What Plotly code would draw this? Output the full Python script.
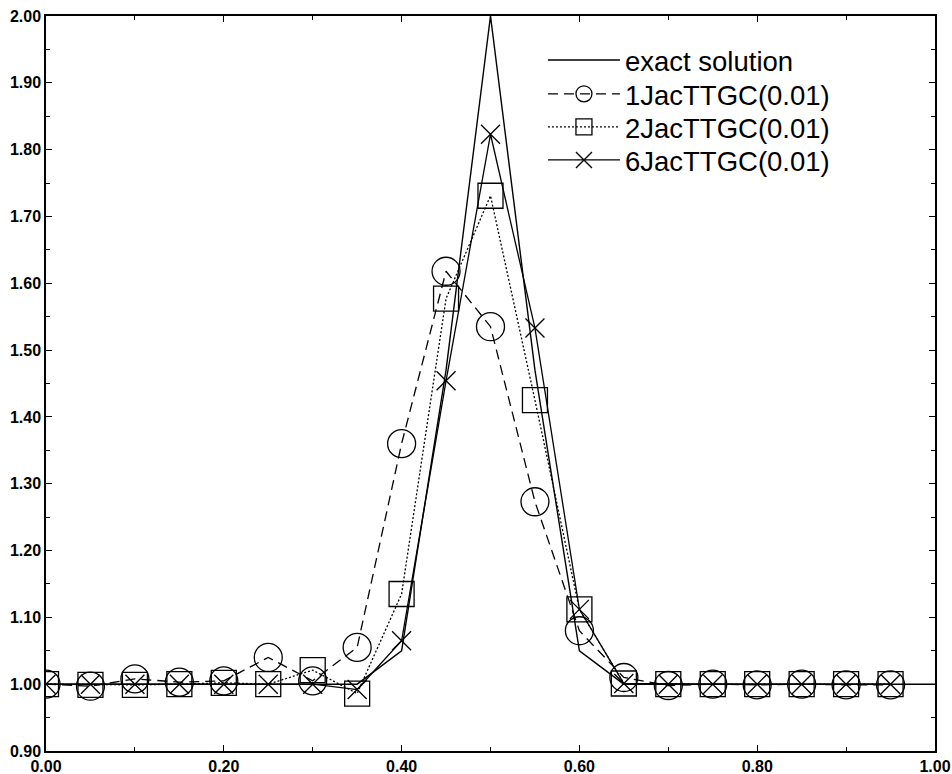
import plotly.graph_objects as go

# ---- data ----
x_exact = [0.00, 0.05, 0.10, 0.15, 0.20, 0.25, 0.30, 0.35, 0.40, 0.45, 0.50,
           0.55, 0.60, 0.65, 0.70, 0.75, 0.80, 0.85, 0.90, 0.95, 1.00]
y_exact = [1.0, 1.0, 1.0, 1.0, 1.0, 1.0, 1.0, 1.0, 1.05, 1.47, 2.0,
           1.47, 1.05, 1.0, 1.0, 1.0, 1.0, 1.0, 1.0, 1.0, 1.0]

x_num = [0.00, 0.05, 0.10, 0.15, 0.20, 0.25, 0.30, 0.35, 0.40, 0.45,
         0.50, 0.55, 0.60, 0.65, 0.70, 0.75, 0.80, 0.85, 0.90, 0.95]
jac1 = [1.000, 0.997, 1.008, 1.003, 1.005, 1.040, 1.005, 1.055, 1.360, 1.618,
        1.535, 1.273, 1.080, 1.010, 0.998, 1.000, 0.999, 1.000, 0.999, 0.999]
jac2 = [1.000, 0.999, 0.999, 1.000, 1.002, 1.000, 1.021, 0.986, 1.135, 1.577,
        1.731, 1.425, 1.112, 1.001, 1.000, 1.000, 1.000, 1.000, 1.000, 1.000]
jac6 = [1.000, 1.000, 1.000, 1.000, 1.000, 1.000, 1.000, 0.992, 1.065, 1.454,
        1.823, 1.533, 1.112, 1.001, 1.000, 1.000, 1.000, 1.000, 1.000, 1.000]

names = ["exact solution", "1JacTTGC(0.01)", "2JacTTGC(0.01)", "6JacTTGC(0.01)"]

x_ticks = [0.0, 0.2, 0.4, 0.6, 0.8, 1.0]
y_ticks = [0.9, 1.0, 1.1, 1.2, 1.3, 1.4, 1.5, 1.6, 1.7, 1.8, 1.9, 2.0]

FONT = "Liberation Sans, Arial, Helvetica, sans-serif"

fig = go.Figure()
fig.add_trace(go.Scatter(x=x_exact, y=y_exact, mode="lines", name=names[0],
                         legend="legend",
                         line=dict(color="black", width=1.4)))
fig.add_trace(go.Scatter(x=x_num, y=jac1, mode="lines+markers", name=names[1],
                         legend="legend2",
                         line=dict(color="black", width=1.3, dash="10px,6px"),
                         marker=dict(symbol="circle-open", size=28, color="black",
                                     line=dict(width=1.3, color="black"))))
fig.add_trace(go.Scatter(x=x_num, y=jac2, mode="lines+markers", name=names[2],
                         legend="legend3",
                         line=dict(color="black", width=1.3, dash="2px,2px"),
                         marker=dict(symbol="square-open", size=25, color="black",
                                     line=dict(width=1.3, color="black"))))
fig.add_trace(go.Scatter(x=x_num, y=jac6, mode="lines+markers", name=names[3],
                         legend="legend4",
                         line=dict(color="black", width=1.3),
                         marker=dict(symbol="x-thin-open", size=19, color="black",
                                     line=dict(width=1.3, color="black"))))

axis_common = dict(showgrid=False, zeroline=False, showline=True, linecolor="black",
                   linewidth=1.5, mirror="ticks", ticks="inside", ticklen=6,
                   tickcolor="black", tickwidth=1, tickformat=".2f",
                   automargin=False,
                   tickfont=dict(family=FONT, size=16, color="black", weight="bold"))

fig.update_xaxes(range=[0, 1.0], tickvals=x_ticks,
                 minor=dict(dtick=0.1, tick0=0, ticks="inside", ticklen=4,
                            tickcolor="black", tickwidth=1),
                 **axis_common)
fig.update_yaxes(range=[0.9, 2.0], tickvals=y_ticks,
                 minor=dict(dtick=0.05, tick0=0.9, ticks="inside", ticklen=4,
                            tickcolor="black", tickwidth=1),
                 **axis_common)

leg_font = dict(family=FONT, size=27.5, color="black")
leg_x = 0.559
leg_ys = [0.9400, 0.8940, 0.8490, 0.8040]
leg_common = dict(x=leg_x, xanchor="left", yanchor="middle",
                  bgcolor="rgba(0,0,0,0)", borderwidth=0,
                  font=leg_font, itemwidth=72)

fig.update_layout(
    width=952, height=774,
    margin=dict(l=46, r=17, t=16, b=23),
    paper_bgcolor="white", plot_bgcolor="white",
    showlegend=True,
    legend=dict(y=leg_ys[0], **leg_common),
    legend2=dict(y=leg_ys[1], **leg_common),
    legend3=dict(y=leg_ys[2], **leg_common),
    legend4=dict(y=leg_ys[3], **leg_common),
)

fig.write_html("out.html",
               config={"displayModeBar": False},
               post_script="document.body.style.margin='0';"
                           "document.body.style.overflow='hidden';")
